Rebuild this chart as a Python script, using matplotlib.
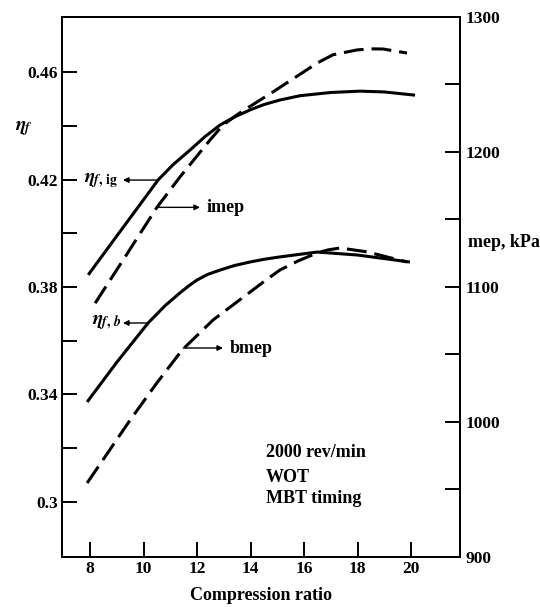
import matplotlib
matplotlib.use("Agg")
import matplotlib.pyplot as plt

plt.rcParams['font.family'] = ['Liberation Serif', 'DejaVu Serif']
plt.rcParams['font.weight'] = 'bold'
plt.rcParams['axes.labelweight'] = 'bold'
plt.rcParams['mathtext.fontset'] = 'stix'

# curves
# fuel conversion efficiencies (left axis)
eta_ig_x = [7.93, 9.0, 10.0, 10.54, 11.1, 11.74, 12.3, 12.86, 13.4, 13.98, 14.5, 15.1, 15.85, 17.0, 18.09, 19.0, 20.15]
eta_ig_y = [0.3845, 0.399, 0.4125, 0.4198, 0.4255, 0.4310, 0.4360, 0.4403, 0.4433, 0.4459, 0.4479, 0.4496, 0.4512, 0.4524, 0.4529, 0.4526, 0.4514]

eta_b_x = [7.89, 9.0, 10.17, 10.8, 11.36, 11.7, 12.0, 12.4, 12.86, 13.4, 13.98, 14.5, 15.1, 16.49, 18.0, 19.96]
eta_b_y = [0.3372, 0.352, 0.3666, 0.3730, 0.3778, 0.3805, 0.3826, 0.3847, 0.3863, 0.3880, 0.3893, 0.3903, 0.3912, 0.3930, 0.3919, 0.3893]

# mean effective pressures, kPa (right axis)
imep_x = [8.19, 9.3, 10.5, 11.36, 12.49, 12.97, 13.6, 14.8, 15.96, 16.5, 17.08, 17.98, 18.5, 18.95, 19.85]
imep_y = [1088, 1122, 1159, 1181.5, 1209, 1220, 1229, 1244, 1259, 1266, 1272, 1275.6, 1276.4, 1276.3, 1273.3]

bmep_x = [7.89, 9.5, 10.5, 11.44, 12.6, 13.9, 14.5, 15.1, 15.8, 16.49, 16.9, 17.35, 18.36, 19.85]
bmep_y = [954.8, 1001.5, 1029, 1053.3, 1075.6, 1095, 1104, 1112.6, 1119.5, 1125.2, 1127.5, 1128.9, 1126, 1118.5]

x_ticks = [8, 10, 12, 14, 16, 18, 20]
eta_ticks = [0.30, 0.34, 0.38, 0.42, 0.46]
eta_labels = ['0.3', '0.34', '0.38', '0.42', '0.46']
eta_minor = [0.32, 0.36, 0.40, 0.44]
mep_ticks = [900, 1000, 1100, 1200, 1300]
mep_minor = [950, 1050, 1150, 1250]

fs = 12.5
lw_curve = 2.2
dash = (0, (6.5, 2.6))

fig = plt.figure(figsize=(5.4, 6.07), dpi=100)
ax = fig.add_axes([0.1148, 0.0824, 0.737, 0.8896])
ax2 = ax.twinx()

ax.plot(eta_ig_x, eta_ig_y, color='black', lw=lw_curve, solid_capstyle='butt')
ax.plot(eta_b_x, eta_b_y, color='black', lw=lw_curve, solid_capstyle='butt')
ax2.plot(imep_x, imep_y, color='black', lw=lw_curve, linestyle=dash)
ax2.plot(bmep_x, bmep_y, color='black', lw=lw_curve, linestyle=dash)

ax.set_xlim(6.95, 21.83)
ax.set_ylim(0.2795, 0.4805)
ax2.set_ylim(900, 1300)

for s in ax.spines.values():
    s.set_linewidth(1.4)
for s in ax2.spines.values():
    s.set_linewidth(1.4)

ax.set_xticks(x_ticks)
ax.set_xticklabels([str(v) for v in x_ticks], fontsize=fs)
ax.set_yticks(eta_ticks)
ax.set_yticklabels(eta_labels, fontsize=fs)
ax.set_yticks(eta_minor, minor=True)
ax2.set_yticks(mep_ticks)
ax2.set_yticklabels([str(v) for v in mep_ticks], fontsize=fs)
ax2.set_yticks(mep_minor, minor=True)

ax.tick_params(axis='x', direction='in', length=11, width=1.4, pad=3, top=False)
ax.tick_params(axis='y', which='both', direction='in', length=11, width=1.4, pad=3, right=False)
ax2.tick_params(axis='y', which='both', direction='in', length=11, width=1.4, pad=4)
ax2.tick_params(axis='x', which='both', top=False, bottom=False)

ax.set_xlabel('Compression ratio', fontsize=13, fontweight='bold', labelpad=7)

# axis titles
fig.text(0.044, 0.789, r'$\eta_f$', fontsize=14, ha='center', va='center')
fig.text(0.866, 0.600, 'mep, kPa', fontsize=13, ha='left', va='center')

# curve labels with arrows
arrow = dict(arrowstyle='-|>', lw=1.0, color='black', mutation_scale=8, shrinkA=0, shrinkB=0)
ax.annotate('', xy=(9.23, 0.4198), xytext=(10.54, 0.4198), arrowprops=arrow)
ax.text(9.05, 0.4198, r'$\eta_{f,\,\mathrm{ig}}$', fontsize=14, ha='right', va='center')
ax.annotate('', xy=(9.23, 0.3666), xytext=(10.17, 0.3666), arrowprops=arrow)
ax.text(9.16, 0.3666, r'$\eta_{f,\,b}$', fontsize=14, ha='right', va='center')
ax2.annotate('', xy=(12.11, 1159), xytext=(10.5, 1159), arrowprops=arrow)
ax2.text(12.37, 1159, 'imep', fontsize=13, ha='left', va='center')
ax2.annotate('', xy=(12.97, 1054.8), xytext=(11.48, 1054.8), arrowprops=arrow)
ax2.text(13.23, 1054.8, 'bmep', fontsize=13, ha='left', va='center')

# operating conditions
ax.text(0.5126, 0.1926, '2000 rev/min', transform=ax.transAxes, fontsize=13, ha='left', va='center')
ax.text(0.5126, 0.148, 'WOT', transform=ax.transAxes, fontsize=13, ha='left', va='center')
ax.text(0.5126, 0.109, 'MBT timing', transform=ax.transAxes, fontsize=13, ha='left', va='center')

fig.savefig('out.png', dpi=100)
